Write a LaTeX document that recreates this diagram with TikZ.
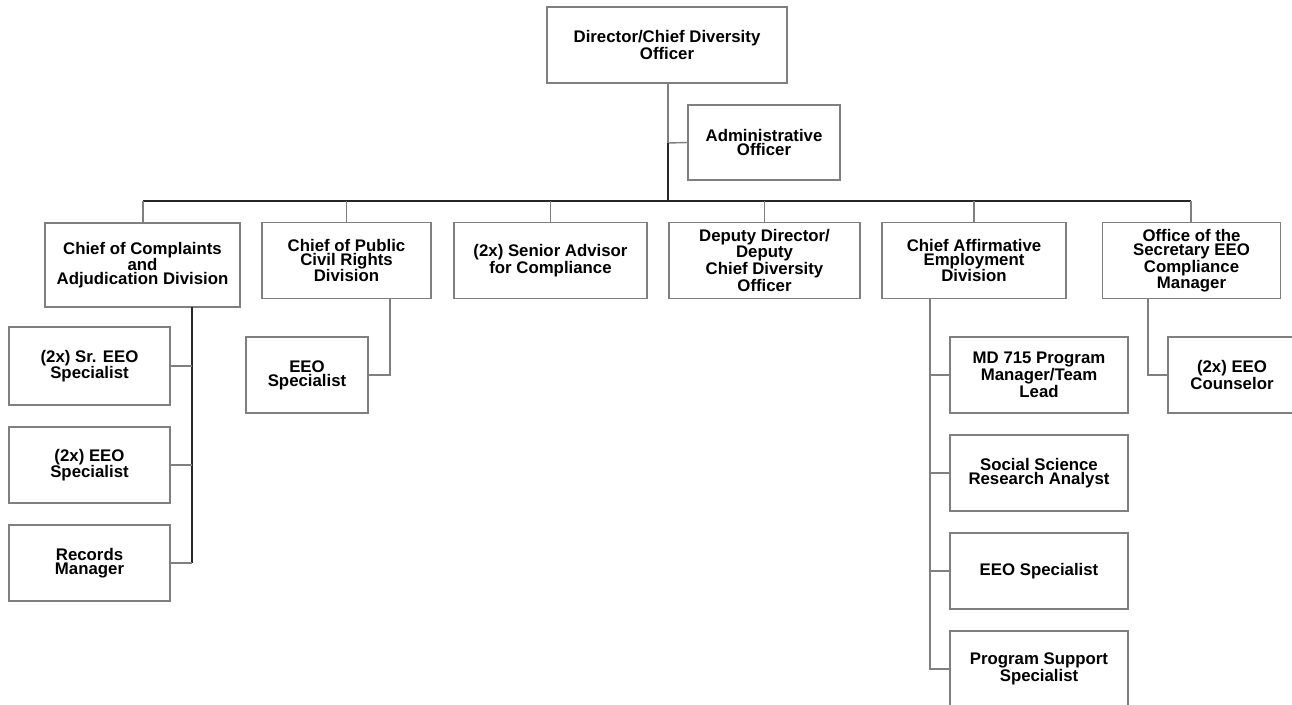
\documentclass[tikz,border=0pt]{standalone}
\usepackage{fontspec}
\setmainfont{Liberation Sans}
\begin{document}
\begin{tikzpicture}[x=1pt,y=-1pt,
  box/.style={draw=boxgray,line width=1.3pt,fill=white,inner sep=0pt,align=center,
    font=\fontsize{16.8}{13.8}\selectfont\bfseries},
  conn/.style={draw=boxgray,line width=1.4pt},
  trunk/.style={draw=black!85,line width=1.6pt}]
\definecolor{boxgray}{HTML}{7F7F7F}
\useasboundingbox (0,0) rectangle (1292,704);
\fill[white] (0,0) rectangle (1292,704);
\clip (0,0) rectangle (1292,704);
% level 0/1
\node[box,minimum width=240pt,minimum height=76pt] (dir) at (667,45) {Director/Chief Diversity\\Officer};
\node[box,minimum width=152pt,minimum height=75pt] (adm) at (764,142.5) {Administrative\\Officer};
% level 2
\node[box,minimum width=195pt,minimum height=84pt] (comp) at (142.5,265) {Chief of Complaints\\and\\Adjudication Division};
\node[box,minimum width=169pt,minimum height=76pt] (pub) at (346.5,260.5) {Chief of Public\\Civil Rights\\Division};
\node[box,minimum width=193pt,minimum height=76pt] (sen) at (550.5,260.5) {(2x) Senior Advisor\\for Compliance};
\node[box,minimum width=191pt,minimum height=76pt] (dep) at (764.5,260.5) {Deputy Director/\\Deputy\\Chief Diversity\\Officer};
\node[box,minimum width=184pt,minimum height=76pt] (aff) at (974,260.5) {Chief Affirmative\\Employment\\Division};
\node[box,minimum width=178pt,minimum height=76pt] (osec) at (1191.5,260.5) {Office of the\\Secretary EEO\\Compliance\\Manager};
% complaints subordinates
\node[box,minimum width=161pt,minimum height=78pt] (sr) at (89.5,366) {(2x) Sr. EEO\\Specialist};
\node[box,minimum width=161pt,minimum height=76pt] (eeo2) at (89.5,465) {(2x) EEO\\Specialist};
\node[box,minimum width=161pt,minimum height=76pt] (rec) at (89.5,563) {Records\\Manager};
% public subordinate
\node[box,minimum width=122pt,minimum height=76pt] (peeo) at (307,375) {EEO\\Specialist};
% affirmative subordinates
\node[box,minimum width=178pt,minimum height=76pt] (md) at (1039,375) {MD 715 Program\\Manager/Team\\Lead};
\node[box,minimum width=178pt,minimum height=76pt] (soc) at (1039,473) {Social Science\\Research Analyst};
\node[box,minimum width=178pt,minimum height=76pt] (aeeo) at (1039,571) {EEO Specialist};
\node[box,minimum width=178pt,minimum height=76pt] (prog) at (1039,669) {Program Support\\Specialist};
% office subordinate
\node[box,minimum width=128pt,minimum height=76pt] (cou) at (1232,375) {(2x) EEO\\Counselor};
% connectors
\coordinate (tj) at (668,143);
\coordinate (bj) at (668,201);
\coordinate (bl) at (143,201);
\coordinate (br) at (1191,201);
\draw[conn] (dir.south -| tj) -- (tj);
\draw[conn] (tj) -- (adm.west);
\draw[trunk] (tj) -- (bj);
\draw[trunk] (bl) -- (br);
\draw[conn] (bl) -- (comp.north -| bl);
\draw[conn] (pub.north |- bj) -- (pub.north);
\draw[conn] (sen.north |- bj) -- (sen.north);
\draw[conn] (dep.north |- bj) -- (dep.north);
\draw[conn] (aff.north |- bj) -- (aff.north);
\draw[conn] (br) -- (osec.north -| br);
% complaints branch
\coordinate (cv) at (192,307);
\draw[trunk] (cv) -- (cv |- rec.east);
\draw[conn] (sr.east) -- (sr.east -| cv);
\draw[conn] (eeo2.east) -- (eeo2.east -| cv);
\draw[conn] (rec.east) -- (rec.east -| cv);
% public branch
\coordinate (pv) at (390,298.5);
\draw[conn] (pv) |- (peeo.east);
% affirmative branch
\coordinate (av) at (930,298.5);
\draw[conn] (av) |- (prog.west);
\draw[conn] (md.west) -- (md.west -| av);
\draw[conn] (soc.west) -- (soc.west -| av);
\draw[conn] (aeeo.west) -- (aeeo.west -| av);
% office branch
\coordinate (ov) at (1148,298.5);
\draw[conn] (ov) |- (cou.west);
\end{tikzpicture}
\end{document}
